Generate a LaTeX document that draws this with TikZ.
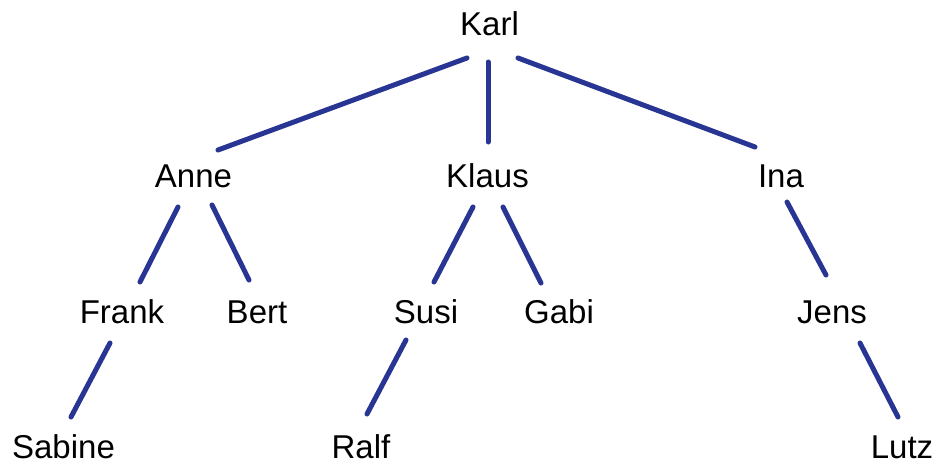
\documentclass[tikz,border=0pt]{standalone}
\usepackage{fontspec}
\setmainfont{Liberation Sans}
\usetikzlibrary{calc}
\definecolor{edgeblue}{HTML}{283593}
\begin{document}
\begin{tikzpicture}[x=1pt,y=-1pt,
  person/.style={anchor=base,inner sep=0pt,font=\fontsize{33}{40}\selectfont},
  edge/.style={draw=edgeblue,line width=5pt,line cap=round}]
\useasboundingbox[fill=white] (0,0) rectangle (935,463);
\node[person] (karl) at (489.5,35) {Karl};
\node[person] (anne) at (193.5,187) {Anne};
\node[person] (klaus) at (487.5,187) {Klaus};
\node[person] (ina) at (781,187) {Ina};
\node[person] (frank) at (122,323) {Frank};
\node[person] (bert) at (257,323) {Bert};
\node[person] (susi) at (426,323) {Susi};
\node[person] (gabi) at (559,323) {Gabi};
\node[person] (jens) at (832,323) {Jens};
\node[person] (sabine) at (63.5,458) {Sabine};
\node[person] (ralf) at (361,458) {Ralf};
\node[person] (lutz) at (902,458) {Lutz};
\draw[edge] ($(karl.base)+(-22.5,23)$) -- ($(anne.base)+(24.5,-37)$);
\draw[edge] ($(karl.base)+(-1.5,27)$) -- ($(klaus.base)+(0.5,-45)$);
\draw[edge] ($(karl.base)+(28.5,23)$) -- ($(ina.base)+(-26,-40)$);
\draw[edge] ($(anne.base)+(-15.5,20)$) -- ($(frank.base)+(18,-41)$);
\draw[edge] ($(anne.base)+(18.5,18)$) -- ($(bert.base)+(-8,-43)$);
\draw[edge] ($(klaus.base)+(-14.5,20)$) -- ($(susi.base)+(8,-41)$);
\draw[edge] ($(klaus.base)+(15.5,20)$) -- ($(gabi.base)+(-18,-40)$);
\draw[edge] ($(ina.base)+(6,15)$) -- ($(jens.base)+(-6,-48)$);
\draw[edge] ($(frank.base)+(-12,20)$) -- ($(sabine.base)+(7.5,-41)$);
\draw[edge] ($(susi.base)+(-20,17)$) -- ($(ralf.base)+(6,-44)$);
\draw[edge] ($(jens.base)+(28,20)$) -- ($(lutz.base)+(-4,-41)$);
\end{tikzpicture}
\end{document}
